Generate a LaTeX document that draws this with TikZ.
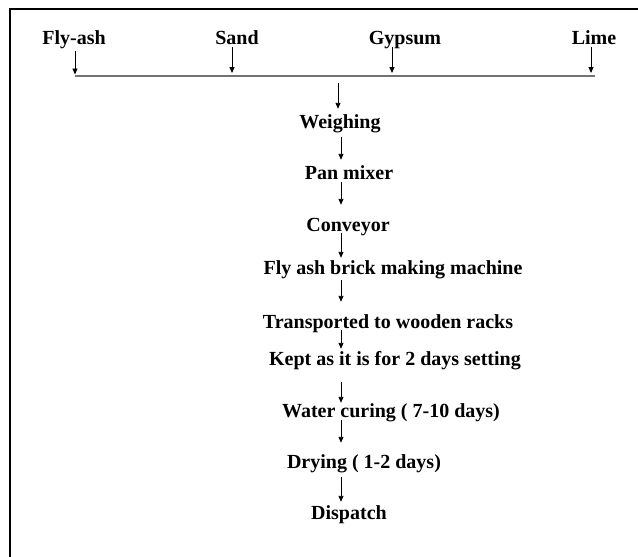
\documentclass[tikz,border=0pt]{standalone}
\usepackage{fontspec}
\setmainfont{Liberation Serif}
\usetikzlibrary{arrows.meta}
\tikzset{
  lbl/.style={font=\fontsize{20}{24}\selectfont\bfseries, anchor=base, inner sep=0pt, text height=14pt, text depth=5pt},
  arr/.style={line width=0.9pt, -{Triangle[length=6pt,width=5pt]}},
  bar/.style={line width=1.4pt, draw=black!55},
  frame/.style={line width=2pt, draw=black}
}
\begin{document}
\begin{tikzpicture}[x=1pt,y=-1pt]
\useasboundingbox (0,0) rectangle (638,557);
\fill[white] (0,0) rectangle (638,557);
% frame (top and left edges)
\draw[frame] (10,557) -- (10,9) -- (638,9);
% ingredients
\node[lbl] (fly) at (74,44) {Fly-ash};
\node[lbl] (sand) at (237,44) {Sand};
\node[lbl] (gyp) at (405,44) {Gypsum};
\node[lbl] (lime) at (594,44) {Lime};
% collecting line
\coordinate (jF) at (75,76);
\coordinate (jS) at (232,76);
\coordinate (jG) at (392,76);
\coordinate (jL) at (591,76);
\coordinate (jR) at (595,76);
\coordinate (jC) at (338,76);
\draw[bar] (jF) -- (jR);
\draw[arr, shorten <=2pt, shorten >=1.5pt] (fly.south -| jF) -- (jF);
\draw[arr, shorten <=-2pt, shorten >=3pt] (sand.south -| jS) -- (jS);
\draw[arr, shorten <=-2pt, shorten >=3pt] (gyp.south -| jG) -- (jG);
\draw[arr, shorten <=-2pt, shorten >=3pt] (lime.south -| jL) -- (jL);
% process chain
\coordinate (ax) at (341,0);
\node[lbl] (weigh) at (340,128) {Weighing};
\node[lbl] (pan) at (349,179) {Pan mixer};
\node[lbl] (conv) at (348,231) {Conveyor};
\node[lbl] (mach) at (393,274) {Fly ash brick making machine};
\node[lbl] (trans) at (388,328) {Transported to wooden racks};
\node[lbl] (kept) at (395,365) {Kept as it is for 2 days setting};
\node[lbl] (water) at (391,417) {Water curing ( 7-10 days)};
\node[lbl] (dry) at (364,468) {Drying ( 1-2 days)};
\node[lbl] (disp) at (349,519) {Dispatch};
\draw[arr, shorten <=7pt, shorten >=5pt] (jC) -- (weigh.north -| jC);
\draw[arr, shorten <=4pt, shorten >=5pt] (weigh.south -| ax) -- (pan.north -| ax);
\draw[arr, shorten <=-2pt, shorten >=12pt] (pan.south -| ax) -- (conv.north -| ax);
\draw[arr, shorten <=-3pt, shorten >=2pt] (conv.south -| ax) -- (mach.north -| ax);
\draw[arr, shorten <=1pt, shorten >=12pt] (mach.south -| ax) -- (trans.north -| ax);
\draw[arr, shorten <=-3pt, shorten >=2pt] (trans.south -| ax) -- (kept.north -| ax);
\draw[arr, shorten <=12pt, shorten >=0pt] (kept.south -| ax) -- (water.north -| ax);
\draw[arr, shorten <=-2pt, shorten >=11pt] (water.south -| ax) -- (dry.north -| ax);
\draw[arr, shorten <=4pt, shorten >=3pt] (dry.south -| ax) -- (disp.north -| ax);
\end{tikzpicture}
\end{document}
